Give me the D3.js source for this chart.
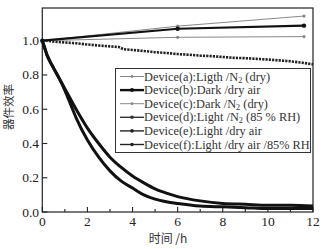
<!DOCTYPE html>
<html>
<head>
<meta charset="utf-8">
<script src="https://cdn.jsdelivr.net/npm/d3@7"></script>
<style>
  body { margin: 0; background: #fff; }
  svg { display: block; }
</style>
</head>
<body>
<div id="chart"></div>
<script>
// data
var tABC = [0, 6, 11.6];
var aVals = [1.0, 1.085, 1.144];
var bVals = [1.0, 1.07, 1.088];
var cVals = [1.0, 1.02, 1.024];

var tD = [0, 0.2, 0.5, 1, 1.5, 2, 2.5, 3, 3.4, 3.6, 4, 4.5, 5, 5.5, 6, 6.5, 7, 7.5, 8, 8.5, 9, 9.5, 10, 10.5, 11, 11.5, 12];
var dVals = [1.0, 1.0, 0.995, 0.99, 0.985, 0.978, 0.972, 0.967, 0.963, 0.95, 0.946, 0.94, 0.933, 0.928, 0.922, 0.918, 0.913, 0.91, 0.905, 0.9, 0.898, 0.894, 0.89, 0.885, 0.88, 0.872, 0.862];

var tEF = [0, 0.1, 0.2, 0.3, 0.5, 0.75, 1, 1.25, 1.5, 2, 2.5, 3, 3.5, 4, 4.5, 5, 5.5, 6, 7, 8, 9, 10, 11, 12];
var eVals = [1.0, 0.96, 0.92, 0.89, 0.84, 0.78, 0.72, 0.66, 0.60, 0.49, 0.40, 0.32, 0.26, 0.21, 0.17, 0.135, 0.11, 0.09, 0.065, 0.05, 0.045, 0.04, 0.04, 0.035];
var fVals = [1.0, 0.96, 0.92, 0.89, 0.84, 0.78, 0.71, 0.63, 0.55, 0.42, 0.32, 0.24, 0.18, 0.14, 0.10, 0.075, 0.06, 0.05, 0.035, 0.03, 0.025, 0.02, 0.02, 0.02];

var xTicks = [0, 2, 4, 6, 8, 10, 12];
var xMinor = [1, 3, 5, 7, 9, 11];
var yTicks = [0, 0.2, 0.4, 0.6, 0.8, 1.0];

var legendNames = [
  ["Device(a):Ligth /N", "2", " (dry)"],
  ["Device(b):Dark /dry air"],
  ["Device(c):Dark /N", "2", " (dry)"],
  ["Device(d):Light /N", "2", " (85 % RH)"],
  ["Device(e):Light /dry air"],
  ["Device(f):Light /dry air /85% RH"]
];

var W = 329, H = 249;
var x = d3.scaleLinear().domain([0, 12]).range([42.3, 313]);
var y = d3.scaleLinear().domain([0, 1.191]).range([212, 8]);

var svg = d3.select("#chart").append("svg").attr("width", W).attr("height", H);

var serif = "'Liberation Serif', 'DejaVu Serif', serif";
var cjk = "'Noto Sans CJK SC', sans-serif";

// frame
svg.append("rect")
  .attr("x", x(0)).attr("y", y(1.191))
  .attr("width", x(12) - x(0)).attr("height", y(0) - y(1.191))
  .attr("fill", "none").attr("stroke", "#222").attr("stroke-width", 1.2);

// ticks (inward)
var axisG = svg.append("g").attr("stroke", "#222").attr("stroke-width", 1.1);
axisG.selectAll(".xt").data(xTicks).enter().append("line")
  .attr("x1", d => x(d)).attr("x2", d => x(d))
  .attr("y1", y(0)).attr("y2", y(0) - 5);
axisG.selectAll(".xm").data(xMinor).enter().append("line")
  .attr("x1", d => x(d)).attr("x2", d => x(d))
  .attr("y1", y(0)).attr("y2", y(0) - 3);
axisG.selectAll(".yt").data(yTicks).enter().append("line")
  .attr("x1", x(0)).attr("x2", x(0) + 5)
  .attr("y1", d => y(d)).attr("y2", d => y(d));

svg.selectAll(".xl").data(xTicks).enter().append("text")
  .attr("x", d => x(d)).attr("y", 226)
  .attr("text-anchor", "middle")
  .style("font-family", serif).style("font-size", "13.5px").attr("fill", "#222")
  .text(d => d);

svg.selectAll(".yl").data(yTicks).enter().append("text")
  .attr("x", 39).attr("y", d => y(d) + 4.5)
  .attr("text-anchor", "end")
  .style("font-family", serif).style("font-size", "13.5px").attr("fill", "#222")
  .text(d => d.toFixed(1));

svg.append("text")
  .attr("transform", "translate(13," + 107 + ") rotate(-90)")
  .attr("text-anchor", "middle")
  .style("font-family", cjk).style("font-size", "11.5px").attr("fill", "#333")
  .text("器件效率");

svg.append("text")
  .attr("x", 168).attr("y", 243)
  .attr("text-anchor", "middle")
  .style("font-family", cjk).style("font-size", "12px").attr("fill", "#333")
  .text("时间 /h");

var line = d3.line().x(d => x(d[0])).y(d => y(d[1]));
function pts(ts, vs) { return ts.map((t, i) => [t, vs[i]]); }

var plot = svg.append("g");

// decay curves
plot.append("path").datum(pts(tEF, eVals)).attr("d", line.curve(d3.curveMonotoneX))
  .attr("fill", "none").attr("stroke", "#111").attr("stroke-width", 3);
plot.append("path").datum(pts(tEF, fVals)).attr("d", line.curve(d3.curveMonotoneX))
  .attr("fill", "none").attr("stroke", "#111").attr("stroke-width", 3);

// d : dense square markers
plot.append("path").datum(pts(tD, dVals)).attr("d", line.curve(d3.curveLinear))
  .attr("fill", "none").attr("stroke", "#222").attr("stroke-width", 2.6)
  .attr("stroke-dasharray", "2.2,1.1");

// a, c thin grey, b thick black
var abc = [
  { v: aVals, c: "#888", w: 1, r: 1.6 },
  { v: cVals, c: "#888", w: 1, r: 1.6 },
  { v: bVals, c: "#111", w: 2.2, r: 2.2 }
];
abc.forEach(function (s) {
  var p = pts(tABC, s.v);
  plot.append("path").datum(p).attr("d", line.curve(d3.curveLinear))
    .attr("fill", "none").attr("stroke", s.c).attr("stroke-width", s.w);
  plot.selectAll(null).data(p).enter().append("circle")
    .attr("cx", d => x(d[0])).attr("cy", d => y(d[1]))
    .attr("r", s.r).attr("fill", s.c);
});

// legend
var lg = svg.append("g");
lg.append("rect").attr("x", 115.5).attr("y", 68.5).attr("width", 195).attr("height", 84)
  .attr("fill", "#fff").attr("stroke", "#333").attr("stroke-width", 1);

var legStyles = [
  { c: "#888", w: 1, r: 1.4 },
  { c: "#111", w: 2.4, r: 2 },
  { c: "#888", w: 1, r: 1.4 },
  { c: "#333", w: 1.4, r: 1.8 },
  { c: "#222", w: 1.4, r: 1.8 },
  { c: "#222", w: 1.4, r: 1.8 }
];
var rowY = d3.scaleLinear().domain([0, 5]).range([76.5, 144.5]);

var texts = lg.append("g");
legendNames.forEach(function (n, i) {
  var yy = rowY(i);
  var st = legStyles[i];
  lg.append("line").attr("x1", 120).attr("x2", 144).attr("y1", yy).attr("y2", yy)
    .attr("stroke", st.c).attr("stroke-width", st.w);
  lg.append("circle").attr("cx", 132).attr("cy", yy).attr("r", st.r).attr("fill", st.c);
  var t = texts.append("text").attr("x", 0).attr("y", yy + 4.2)
    .style("font-family", serif).style("font-size", "12px").attr("fill", "#333");
  t.append("tspan").text(n[0]);
  if (n.length > 1) {
    t.append("tspan").attr("dy", 2).style("font-size", "8px").text(n[1]);
    t.append("tspan").attr("dy", -2).text(n[2]);
  }
});
// the reference font is narrower: squeeze the legend text to its width
var widest = d3.max(texts.selectAll("text").nodes(), nd => nd.getComputedTextLength());
var sx = 166 / widest;
texts.attr("transform", "translate(144,0) scale(" + sx + ",1)");
</script>
</body>
</html>
